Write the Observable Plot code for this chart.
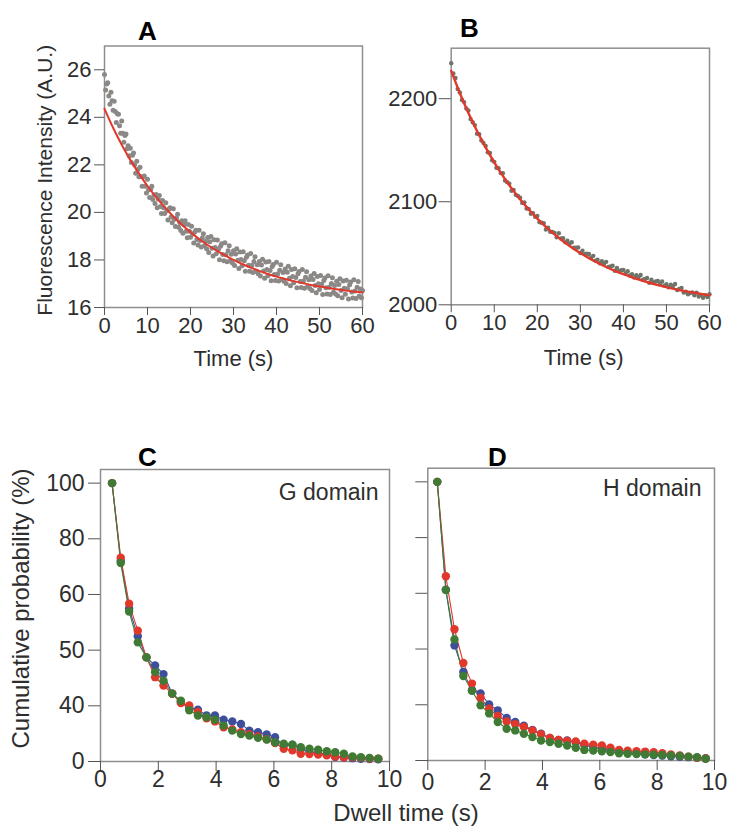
<!DOCTYPE html>
<html><head><meta charset="utf-8">
<script src="https://cdn.jsdelivr.net/npm/d3@7"></script>
<script src="https://cdn.jsdelivr.net/npm/@observablehq/plot@0.6"></script>
<style>
body{margin:0;background:#fff;}
#fig{position:relative;width:732px;height:832px;overflow:hidden;font-family:"Liberation Sans",Arial,sans-serif;}
.panel{position:absolute;}
#dwell{position:absolute;left:406px;top:800px;transform:translateX(-50%);font-size:24px;line-height:26px;color:#2e2e2e;white-space:nowrap;}
</style></head><body>
<div id="fig"></div>
<script>
// ---------- Panel A ----------
const aStep = 0.25;
const aValues = [
25.8,25.15,25.4,25.45,24.9,24.55,25.05,24.7,
24.3,24.68,24.25,23.78,24.15,24.13,23.65,23.33,
23.85,23.33,22.95,23.23,23.3,22.68,22.8,22.38,
22.7,22.1,22.4,22.5,22.0,21.65,22.15,21.8,
21.5,21.9,21.5,21.1,21.5,21.53,21.1,20.82,
21.4,20.94,20.63,20.97,21.1,20.54,20.73,20.37,
20.75,20.2,20.56,20.71,20.25,19.95,20.5,20.2,
19.95,20.41,20.07,19.68,20.14,20.2,19.81,19.57,
20.15,19.71,19.41,19.77,19.92,19.38,19.58,19.24,
19.65,19.12,19.48,19.65,19.21,18.93,19.49,19.21,
18.95,19.42,19.09,18.71,19.18,19.25,18.86,18.63,
19.25,18.82,18.55,18.92,19.1,18.6,18.78,18.47,
18.94,18.31,18.77,18.99,18.49,18.17,18.85,18.52,
18.26,18.84,18.45,18.01,18.58,18.68,18.23,17.97,
18.72,18.22,17.92,18.39,18.6,17.96,18.24,17.87,
18.39,17.77,18.25,18.47,17.99,17.64,18.33,18.02,
17.76,18.34,17.97,17.53,18.11,18.21,17.78,17.52,
18.27,17.77,17.47,17.93,18.14,17.52,17.8,17.42,
17.94,17.33,17.79,18.03,17.54,17.23,17.91,17.6,
17.34,17.93,17.56,17.13,17.72,17.81,17.39,17.14,
17.9,17.41,17.11,17.57,17.8,17.18,17.47,17.1,
17.62,17.01,17.48,17.73,17.23,16.92,17.6,17.3,
17.04,17.63,17.26,16.83,17.42,17.51,17.09,16.84,
17.6,17.11,16.81,17.27,17.5,16.88,17.17,16.8,
17.32,16.71,17.18,17.43,16.93,16.62,17.3,17.0,
16.76,17.35,16.98,16.55,17.14,17.24,16.83,16.57,
17.34,16.85,16.55,17.01,17.25,16.64,16.93,16.57,
17.1,16.49,16.97,17.21,16.72,16.41,17.11,16.81,
16.56,17.15,16.79,16.36,16.96,17.07,16.65,16.4,
17.17,16.69,16.38,16.85,17.09,16.48,16.78,16.41,
16.72];
const fitTime = [0,2,4,6,8,10,12,14,16,18,20,22,24,26,28,30,32,34,36,38,40,42,44,46,48,50,52,54,56,58,60];
const fitA = [24.36,23.56,22.85,22.21,21.64,21.11,20.64,20.22,19.83,19.48,19.17,18.88,18.63,18.40,18.19,18.00,17.83,17.68,17.54,17.41,17.30,17.20,17.11,17.03,16.95,16.88,16.82,16.77,16.71,16.67,16.63];
const aXTicks = [0,10,20,30,40,50,60];
const aYTicks = [16,18,20,22,24,26];

// ---------- Panel B ----------
const bStep = 0.5;
const bValues = [
2234.5,2224.5,2220.1,2209.3,2206.1,2198.7,2196.7,2190.5,2188.7,2180.2,
2177.2,2174.4,2166.1,2165.6,2159.5,2157.1,2154.2,2148.0,2147.3,2140.3,
2138.7,2132.9,2132.5,2127.8,2127.6,2120.6,2119.0,2117.6,2110.7,2111.5,
2106.7,2105.6,2103.9,2098.9,2099.4,2093.5,2093.1,2088.3,2089.0,2085.4,
2086.2,2080.2,2079.6,2079.1,2073.1,2074.8,2070.9,2070.6,2069.8,2065.6,
2069.4,2064.3,2064.7,2060.7,2062.1,2059.2,2060.7,2055.3,2055.4,2055.6,
2050.2,2052.5,2049.2,2049.5,2049.3,2045.7,2047.5,2042.9,2043.8,2040.3,
2042.2,2039.7,2041.7,2036.8,2037.3,2037.9,2033.0,2035.7,2032.8,2033.5,
2033.7,2030.4,2032.6,2028.4,2029.6,2026.4,2028.7,2026.6,2028.9,2024.3,
2025.1,2026.0,2021.4,2024.3,2021.7,2022.7,2023.1,2020.1,2022.6,2018.6,
2020.1,2017.1,2019.6,2017.7,2020.2,2014.3,2015.3,2016.4,2012.0,2012.6,
2010.2,2011.4,2012.0,2009.2,2011.8,2008.0,2009.6,2006.8,2009.4,2007.6,
2010.3];
const fitB = [2227.0,2205.6,2186.2,2168.6,2152.7,2138.2,2125.1,2113.2,2102.4,2092.6,2083.7,2075.6,2068.3,2061.7,2055.7,2050.2,2045.3,2040.8,2036.7,2033.0,2029.7,2026.6,2023.9,2021.4,2019.1,2017.1,2015.2,2013.5,2012.0,2010.6,2009.3];
const bXTicks = [0,10,20,30,40,50,60];
const bYTicks = [2000,2100,2200];

// ---------- Panel C (G domain) ----------
const cX = [0.40,0.70,0.99,1.29,1.59,1.89,2.18,2.48,2.78,3.07,3.37,3.67,3.96,4.26,4.56,4.86,5.15,5.45,5.75,6.04,6.34,6.64,6.93,7.23,7.53,7.83,8.12,8.42,8.72,9.01,9.31,9.61];
const cBlue  = [100,72.0,55.0,45.0,37.4,34.5,31.4,24.4,21.5,19.3,18.6,16.5,16.5,15.0,14.4,13.5,11.1,10.5,9.7,8.7,5.8,6.0,4.5,3.5,3.0,2.5,1.6,1.4,1.2,1.0,0.9,0.8];
const cRed   = [100,73.2,56.7,47.0,37.4,30.3,27.3,24.4,21.0,20.1,17.8,15.5,14.4,12.3,11.5,10.5,9.8,9.0,8.0,6.6,4.6,4.0,2.8,2.7,2.5,2.2,1.8,1.5,1.5,1.3,1.1,1.0];
const cGreen = [100,71.3,53.9,42.8,37.4,32.1,29.0,24.4,21.8,18.4,16.5,15.9,15.0,12.9,11.1,9.9,9.3,8.5,7.9,6.9,6.4,6.0,5.1,4.6,4.2,3.7,3.3,2.8,1.8,1.5,1.3,1.0];

// ---------- Panel D (H domain) ----------
const dX = [0.33,0.63,0.93,1.24,1.54,1.84,2.14,2.44,2.75,3.05,3.35,3.65,3.95,4.26,4.56,4.86,5.16,5.46,5.77,6.07,6.37,6.67,6.97,7.28,7.58,7.88,8.18,8.48,8.79,9.09,9.39,9.69];
const dBlue  = [100,61.3,41.3,31.8,25.2,24.1,20.1,18.0,15.3,13.8,12.5,11.0,9.6,8.1,7.4,7.2,6.5,5.5,4.8,4.2,3.8,3.2,2.8,2.5,2.2,2.0,1.8,1.5,1.3,1.2,1.0,0.8];
const dRed   = [100,66.1,47.1,35.0,27.6,22.5,18.6,16.0,14.0,13.0,12.0,10.8,9.4,8.1,7.4,7.0,6.8,6.0,5.7,5.4,4.6,3.8,3.5,3.3,3.2,3.0,2.6,2.2,1.8,1.4,1.0,0.7];
const dGreen = [100,61.2,43.4,30.3,25.0,19.8,16.9,13.8,11.4,10.8,9.6,8.4,7.2,6.6,6.0,5.4,4.6,3.8,3.6,3.3,3.0,2.6,2.4,2.3,2.2,2.1,2.0,1.8,1.6,1.4,1.2,0.6];

const dwellXTicks = [0,2,4,6,8,10];
const cumYTicks = [0,20,40,60,80,100];
const cumYLabels = ["0","40","50","60","80","100"];

const panelLetters = ["A","B","C","D"];
const domainLabels = ["G domain","H domain"];
const timeLabel = "Time (s)";
const fluorLabel = "Fluorescence Intensity (A.U.)";
const cumLabel = "Cumulative probability (%)";
const dwellLabel = "Dwell time (s)";

// ---------- styling ----------
const FONT = '"Liberation Sans", Arial, sans-serif';
const FRAME = "#8e8e8e";
const TICK = "#555";
const TXT = "#2e2e2e";
const RED = "#e2382c";
const BLUE = "#3d4f9b";
const GREEN = "#3f7b34";
const GRAY_A = "#8b8886";
const GRAY_B = "#6f7468";

const fig = document.getElementById("fig");
function place(svg, left, top) {
  const d = document.createElement("div");
  d.className = "panel";
  d.style.left = left + "px";
  d.style.top = top + "px";
  d.appendChild(svg);
  fig.appendChild(d);
}
function baseStyle(fs) {
  return {fontSize: fs + "px", fontFamily: FONT, color: TXT, background: "transparent", overflow: "visible"};
}
const plain = d => String(d);
const centered = {textAnchor: "middle", lineAnchor: "middle"};

// Panel A
const rowsA = aValues.map((v, i) => ({t: i * aStep, v}));
const curveA = fitTime.map((t, i) => ({t, v: fitA[i]}));
place(Plot.plot({
  width: 370, height: 380,
  marginLeft: 104, marginRight: 8, marginTop: 45.5, marginBottom: 73,
  style: baseStyle(22),
  x: {domain: [0, 60]},
  y: {domain: [16, 27]},
  marks: [
    Plot.frame({stroke: FRAME, strokeWidth: 1.5}),
    Plot.axisX({ticks: aXTicks, tickFormat: plain, tickSize: 8, tickPadding: 2, label: null, stroke: TICK, color: TXT}),
    Plot.axisY({ticks: aYTicks, tickFormat: plain, tickSize: 10, tickPadding: 3, label: null, stroke: TICK, color: TXT}),
    Plot.dot(rowsA, {x: "t", y: "v", r: 2.5, fill: GRAY_A, stroke: null}),
    Plot.line(curveA, {x: "t", y: "v", stroke: RED, strokeWidth: 2, curve: "natural"}),
    Plot.text([panelLetters[0]], {text: d => d, frameAnchor: "top-left", dx: 43, dy: -14.5, ...centered, fontSize: 26, fontWeight: "bold", fill: "#000"}),
    Plot.text([fluorLabel], {text: d => d, frameAnchor: "left", dx: -59, dy: 3.5, ...centered, rotate: -90, fontSize: 21, fill: TXT}),
    Plot.text([timeLabel], {text: d => d, frameAnchor: "bottom", dy: 51, ...centered, fontSize: 22, fill: TXT})
  ]
}), 0, 0);

// Panel B
const rowsB = bValues.map((v, i) => ({t: i * bStep, v}));
const curveB = fitTime.map((t, i) => ({t, v: fitB[i]}));
place(Plot.plot({
  width: 362, height: 380,
  marginLeft: 80.7, marginRight: 23, marginTop: 47.7, marginBottom: 75.7,
  style: baseStyle(22),
  x: {domain: [0, 60]},
  y: {domain: [2000, 2249]},
  marks: [
    Plot.frame({stroke: FRAME, strokeWidth: 1.5}),
    Plot.axisX({ticks: bXTicks, tickFormat: plain, tickSize: 8, tickPadding: 2, label: null, stroke: TICK, color: TXT}),
    Plot.axisY({ticks: bYTicks, tickFormat: plain, tickSize: 12, tickPadding: 2, label: null, stroke: TICK, color: TXT}),
    Plot.dot(rowsB, {x: "t", y: "v", r: 2.2, fill: GRAY_B, stroke: null}),
    Plot.line(curveB, {x: "t", y: "v", stroke: RED, strokeWidth: 2.4, curve: "natural"}),
    Plot.text([panelLetters[1]], {text: d => d, frameAnchor: "top-left", dx: 18.3, dy: -19.7, ...centered, fontSize: 26, fontWeight: "bold", fill: "#000"}),
    Plot.text([timeLabel], {text: d => d, frameAnchor: "bottom", dx: 3.4, dy: 52.7, ...centered, fontSize: 22, fill: TXT})
  ]
}), 370, 0);

// Panels C and D
function cumPanel(xs, blue, red, green, opts) {
  const series = [[blue, BLUE], [red, RED], [green, GREEN]];
  const marks = [
    Plot.frame({stroke: FRAME, strokeWidth: 1.5}),
    Plot.axisX({ticks: dwellXTicks, tickFormat: plain, tickSize: 10, tickPadding: opts.xPad, label: null, stroke: TICK, color: TXT}),
    Plot.axisY({ticks: cumYTicks, tickSize: 12, tickPadding: 4, label: null, stroke: TICK, color: TXT,
      tickFormat: opts.showY ? (d => cumYLabels[cumYTicks.indexOf(d)]) : (() => "")})
  ];
  for (const [vals, col] of series) {
    marks.push(Plot.line(xs.map((x, i) => ({x, y: vals[i]})), {x: "x", y: "y", stroke: col, strokeWidth: 1.1}));
  }
  for (const [vals, col] of series) {
    marks.push(Plot.dot(xs.map((x, i) => ({x, y: vals[i]})), {x: "x", y: "y", r: 4.2, fill: col, stroke: null}));
  }
  marks.push(Plot.text([opts.letter], {text: d => d, frameAnchor: "top-left", dx: opts.ldx, dy: opts.ldy, ...centered, fontSize: 26, fontWeight: "bold", fill: "#000"}));
  marks.push(Plot.text([opts.domain], {text: d => d, frameAnchor: "top-right", dx: opts.gdx, dy: opts.gdy, textAnchor: "end", lineAnchor: "middle", fontSize: 23, fill: TXT}));
  if (opts.showY) marks.push(Plot.text([cumLabel], {text: d => d, frameAnchor: "left", dx: -79, dy: -7, ...centered, rotate: -90, fontSize: 24, fill: TXT}));
  return Plot.plot({
    width: opts.width, height: 402,
    marginLeft: opts.ml, marginRight: opts.mr, marginTop: opts.mt, marginBottom: opts.mb,
    style: baseStyle(23),
    x: {domain: [0, 10]},
    y: {domain: [0, 104.9]},
    marks
  });
}
place(cumPanel(cX, cBlue, cRed, cGreen, {
  width: 400, ml: 100, mr: 11, mt: 39, mb: 71, xPad: -1, showY: true,
  letter: panelLetters[2], ldx: 47, ldy: -12, domain: domainLabels[0], gdx: -11, gdy: 23
}), 0, 430);
place(cumPanel(dX, dBlue, dRed, dGreen, {
  width: 342, ml: 37.3, mr: 18, mt: 37.7, mb: 72, xPad: 3, showY: false,
  letter: panelLetters[3], ldx: 69.7, ldy: -10.7, domain: domainLabels[1], gdx: -13, gdy: 20
}), 390, 430);

const dw = document.createElement("div");
dw.id = "dwell";
dw.textContent = dwellLabel;
fig.appendChild(dw);
</script>
</body></html>
